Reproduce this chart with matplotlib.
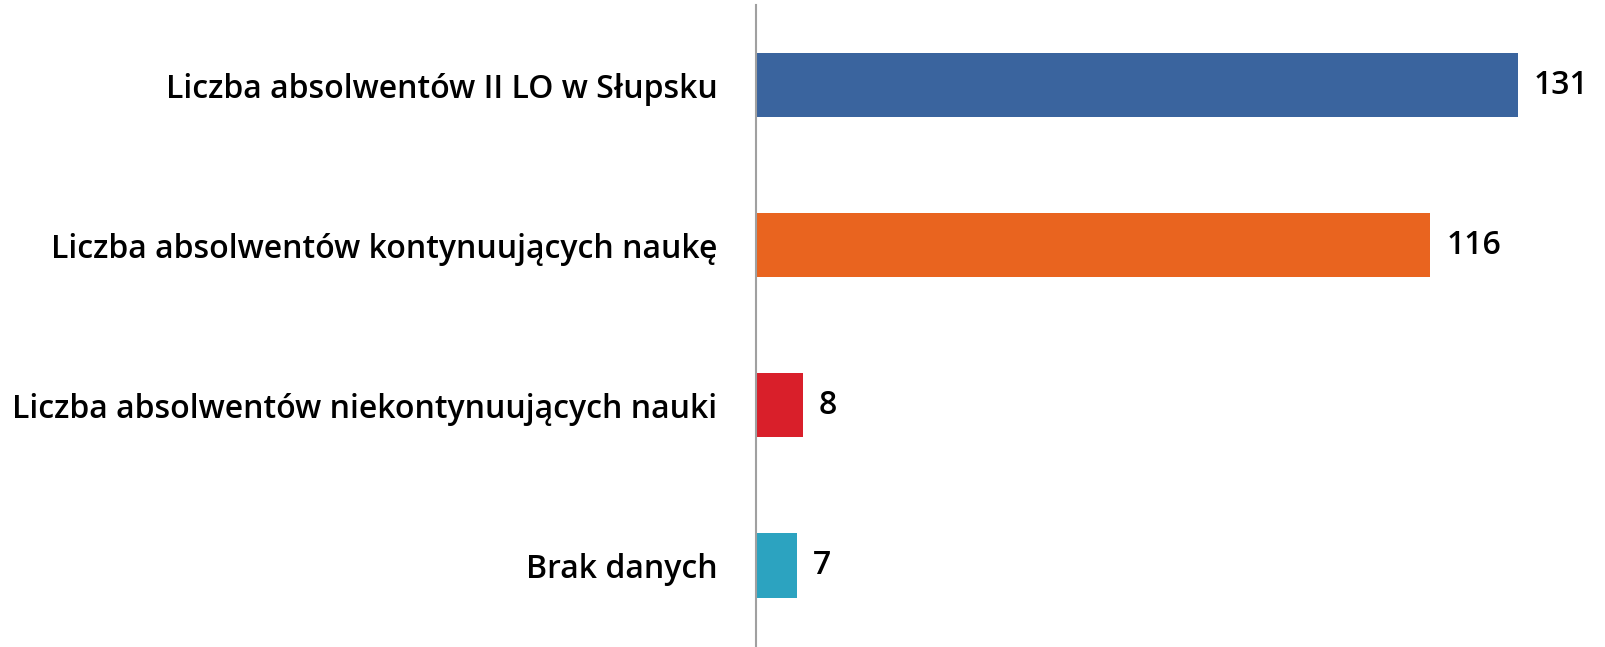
import matplotlib
matplotlib.use("Agg")
import matplotlib.pyplot as plt

categories = ["Liczba absolwentów II LO w Słupsku",
              "Liczba absolwentów kontynuujących naukę",
              "Liczba absolwentów niekontynuujących nauki",
              "Brak danych"]
values = [131, 116, 8, 7]
colors = ["#3A649E", "#E9641F", "#D91F2A", "#2CA3C0"]

plt.rcParams['font.family'] = ['Open Sans', 'DejaVu Sans']

W, H = 1606, 647
fig = plt.figure(figsize=(W/100, H/100), dpi=100)
ax_left = 756.5 / W
ax_bottom = 0.0
ax_top = 5 / H
ax = fig.add_axes([ax_left, ax_bottom, 1 - ax_left, 1 - ax_top - ax_bottom])

ypos = list(range(len(categories)))
ax.barh(ypos, values, height=0.402, color=colors)
ax.set_ylim(len(categories) - 0.5 + 0.01, -0.5)
ax.set_xlim(0, 849.5 / 5.81)

for y, v in zip(ypos, values):
    ax.annotate(str(v), (v, y), xytext=(16, 0), textcoords="offset pixels",
                va="center", ha="left", fontsize=23, fontweight="semibold",
                color="black")

ax.set_yticks(ypos)
ax.set_yticklabels(categories, fontsize=23, fontweight="semibold")
ax.tick_params(axis='y', length=0, pad=28)
ax.set_xticks([])
for s in ["top", "right", "bottom"]:
    ax.spines[s].set_visible(False)
ax.spines["left"].set_color("#A0A0A0")
ax.spines["left"].set_linewidth(1.5)

fig.savefig("out.png", dpi=100)
